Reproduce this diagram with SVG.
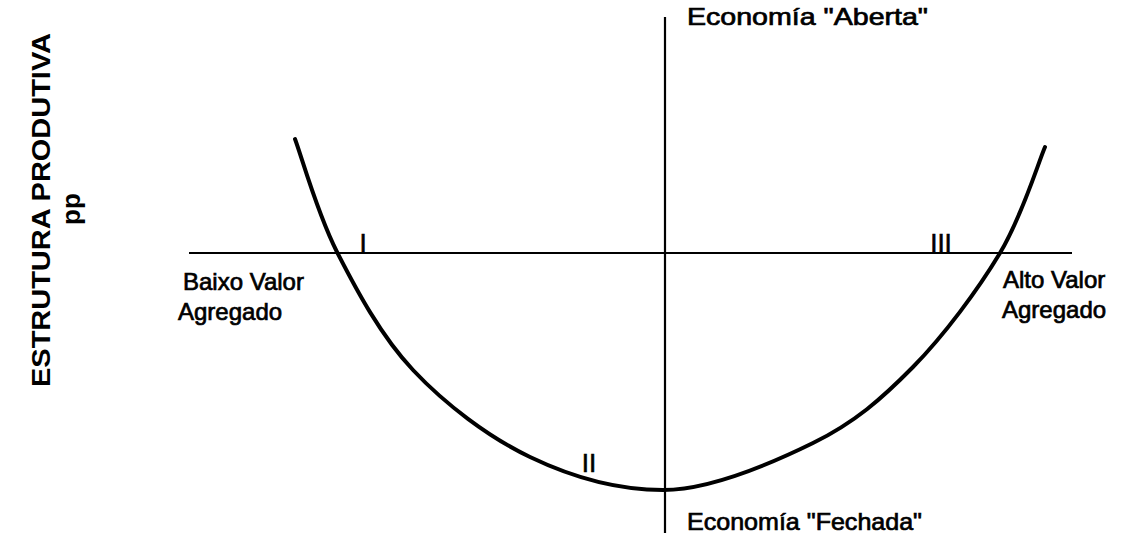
<svg xmlns="http://www.w3.org/2000/svg" width="1124" height="551" viewBox="0 0 1124 551">
<style>
.t{font-family:"Liberation Sans",Arial,sans-serif;font-size:24px;fill:#000;stroke:#000;stroke-width:0.7}
.r{font-family:"Liberation Sans",Arial,sans-serif;font-size:26px;fill:#000;stroke:#000;stroke-width:0.6;text-anchor:middle}
.y{font-family:"Liberation Sans",Arial,sans-serif;font-size:26px;font-weight:bold;fill:#000;text-anchor:middle}
.ax{stroke:#000;stroke-width:2.2;fill:none}
.cv{stroke:#000;stroke-width:4;fill:none;stroke-linecap:round}
</style>
<rect width="1124" height="551" fill="#fff"/>
<g id="connectors">
<line class="ax" x1="189" y1="253" x2="1072" y2="253"/>
<line class="ax" x1="665" y1="17" x2="665" y2="533"/>
<path class="cv" d="M295,139 C302,157.8 317.3,213.5 337,252 C356.7,290.5 380.8,335.8 413,370 C445.2,404.2 488.3,437 530,457 C571.7,477 615.8,490 663,490 C710,490 771.3,463.5 813,443 C854.7,422.5 881.8,398.7 913,367 C944.2,335.3 978,289.7 1000,253 C1022,216.3 1037.5,164.7 1045,147"/>
</g>
<g id="y-label">
<text class="y" transform="translate(50,210) rotate(-90)" textLength="354" lengthAdjust="spacingAndGlyphs">ESTRUTURA PRODUTIVA</text>
<text class="y" transform="translate(80,209) rotate(-90)">pp</text>
</g>
<g id="top-label"><text class="t" x="687" y="25" textLength="241" lengthAdjust="spacingAndGlyphs">Economía "Aberta"</text></g>
<g id="bottom-label"><text class="t" x="687" y="530" textLength="235" lengthAdjust="spacingAndGlyphs">Economía "Fechada"</text></g>
<g id="left-label">
<text class="t" x="183" y="290">Baixo Valor</text>
<text class="t" x="178" y="320">Agregado</text>
</g>
<g id="right-label">
<text class="t" x="1003" y="288">Alto Valor</text>
<text class="t" x="1002" y="318">Agregado</text>
</g>
<g id="region-I"><text class="r" x="363" y="252">I</text></g>
<g id="region-II"><text class="r" x="589" y="472">II</text></g>
<g id="region-III"><text class="r" x="941" y="252">III</text></g>
</svg>
